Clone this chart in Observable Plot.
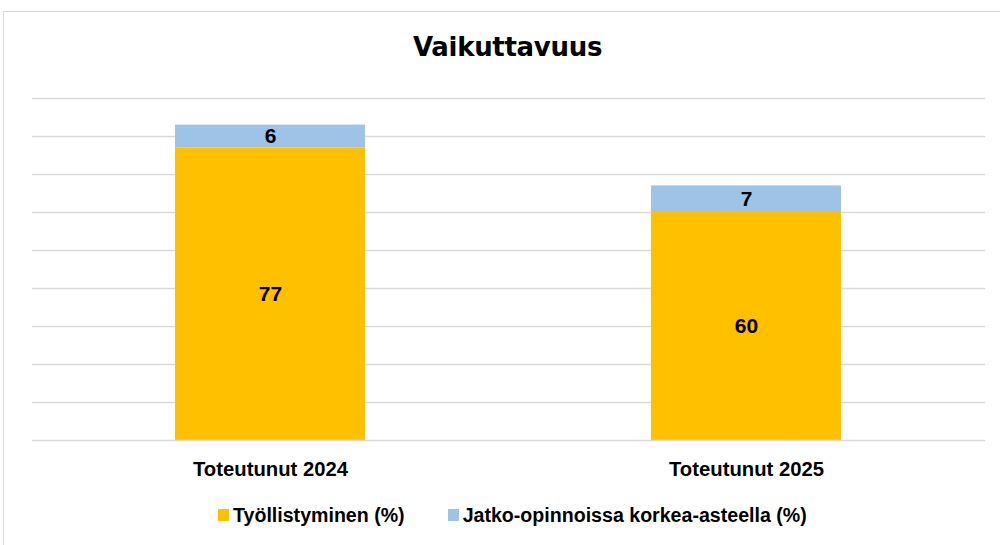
<!DOCTYPE html>
<html><head><meta charset="utf-8">
<script src="https://cdn.jsdelivr.net/npm/d3@7"></script>
<script src="https://cdn.jsdelivr.net/npm/@observablehq/plot@0.6"></script>
<style>
body{margin:0;background:#fff;width:1000px;height:545px;overflow:hidden;position:relative;font-family:"Liberation Sans",Arial,sans-serif;}
#frame{position:absolute;left:3px;top:11px;width:1010px;height:560px;border:1.5px solid #d9d9d9;box-sizing:border-box;}
#title{position:absolute;left:0;width:1015px;top:32px;line-height:30px;text-align:center;font-family:"DejaVu Sans",sans-serif;font-weight:bold;font-size:26px;letter-spacing:-0.3px;color:#000;}
#chart{position:absolute;left:0;top:0;}
#legend{position:absolute;top:504px;left:218px;line-height:22px;display:flex;gap:43px;font-size:19.6px;font-weight:bold;color:#000;white-space:nowrap;}
#legend span.sw{display:inline-block;width:11px;height:12px;margin-right:4px;position:relative;top:-1px;}
</style></head>
<body>
<div id="frame"></div>
<div id="title">Vaikuttavuus</div>
<div id="chart"></div>
<div id="legend"></div>
<script>
const categories = ["Toteutunut 2024", "Toteutunut 2025"];
const series = ["Työllistyminen (%)", "Jatko-opinnoissa korkea-asteella (%)"];
const employment = [77, 60];
const furtherStudies = [6, 7];
const colors = ["#FFC000", "#9DC3E6"];

const data = [];
categories.forEach((c, i) => {
  data.push({cat: c, series: series[0], value: employment[i]});
  data.push({cat: c, series: series[1], value: furtherStudies[i]});
});

const chart = Plot.plot({
  width: 1000,
  height: 480,
  marginTop: 98,
  marginBottom: 40,
  marginLeft: 32,
  marginRight: 15,
  x: {domain: categories, paddingInner: 0.6, paddingOuter: 0.3, label: null, tickSize: 0},
  y: {domain: [0, 90], axis: null},
  color: {domain: series, range: colors},
  style: {fontFamily: '"Liberation Sans",Arial,sans-serif'},
  marks: [
    Plot.gridY(d3.range(10, 91, 10), {stroke: "#d9d9d9", strokeOpacity: 1, strokeWidth: 1.5}),
    Plot.barY(data, Plot.stackY({x: "cat", y: "value", fill: "series", order: series})),
    Plot.ruleY([0], {stroke: "#d9d9d9", strokeWidth: 1.5}),
    Plot.text(data, Plot.stackY({x: "cat", y: "value", z: "series", order: series, text: d => String(d.value),
      fill: "#000", fontSize: 21, fontWeight: "bold"})),
    Plot.axisX({tickSize: 0, tickPadding: 21, fontSize: 20.3, fontWeight: "bold", fill: "#000", label: null})
  ]
});
document.getElementById("chart").appendChild(chart);

const lg = document.getElementById("legend");
series.forEach((s, i) => {
  const it = document.createElement("div");
  it.innerHTML = `<span class="sw" style="background:${colors[i]}"></span>${s}`;
  lg.appendChild(it);
});
</script>
</body></html>
